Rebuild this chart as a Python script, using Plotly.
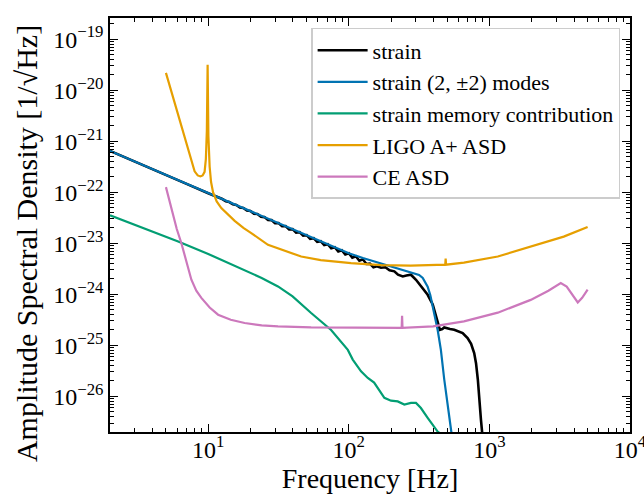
import numpy as np
import plotly.graph_objects as go

# ---------------- data (log10 frequency [Hz], log10 ASD [1/sqrt(Hz)]) ----------------
strain_logf = [0.301, 0.5, 0.699, 0.85, 1.0, 1.05,
               1.100, 1.125, 1.150, 1.175, 1.200, 1.225, 1.250, 1.275, 1.300, 1.325,
               1.350, 1.375, 1.400, 1.425, 1.450, 1.475, 1.500, 1.525, 1.550, 1.575,
               1.600, 1.625, 1.650, 1.675, 1.700, 1.725, 1.750, 1.775, 1.800, 1.825,
               1.850, 1.875, 1.900, 1.925, 1.950, 1.975, 2.000, 2.025, 2.050, 2.075,
               2.100, 2.125, 2.150, 2.175, 2.200,
               2.229, 2.26, 2.29, 2.324, 2.35, 2.384, 2.41, 2.442, 2.478, 2.526, 2.561,
               2.597, 2.627, 2.648, 2.665, 2.679, 2.72, 2.75, 2.81, 2.845, 2.87, 2.892,
               2.905, 2.918, 2.94, 2.955]
strain_logasd = [-21.19, -21.42, -21.66, -21.84, -22.02, -22.075,
                 -22.133, -22.175, -22.192, -22.236, -22.251, -22.298, -22.310, -22.360, -22.369, -22.421,
                 -22.428, -22.482, -22.487, -22.543, -22.546, -22.605, -22.605, -22.667, -22.664, -22.728,
                 -22.723, -22.790, -22.782, -22.851, -22.841, -22.913, -22.900, -22.974, -22.959, -23.036,
                 -23.018, -23.097, -23.077, -23.159, -23.136, -23.220, -23.195, -23.282, -23.254, -23.343,
                 -23.313, -23.405, -23.40, -23.47, -23.45,
                 -23.48, -23.47, -23.53, -23.55, -23.615, -23.65, -23.63, -23.617, -23.715, -23.88, -24.01,
                 -24.20, -24.50, -24.695, -24.68, -24.65, -24.68, -24.695, -24.76, -24.857, -24.97, -25.15,
                 -25.35, -25.67, -26.455, -26.9]

modes22_logf = [0.301, 0.699, 1.0, 1.301, 1.699, 2.0, 2.1, 2.2, 2.3, 2.4, 2.466, 2.5, 2.526,
                2.545, 2.561, 2.58, 2.597, 2.632, 2.655, 2.679, 2.727, 2.745]
modes22_logasd = [-21.19, -21.66, -22.015, -22.37, -22.84, -23.195, -23.29, -23.37, -23.46, -23.53,
                  -23.58, -23.62, -23.68, -23.76, -23.85, -24.02, -24.24, -24.695, -25.09, -25.67,
                  -26.65, -27.0]

memory_logf = [0.301, 0.786, 1.0, 1.259, 1.38, 1.496, 1.6, 1.732, 1.8, 1.874, 1.993, 2.028, 2.087,
               2.135, 2.180, 2.217, 2.253, 2.300, 2.348, 2.395, 2.442, 2.478, 2.513, 2.561, 2.608,
               2.632, 2.66]
memory_logasd = [-22.45, -22.965, -23.21, -23.52, -23.68, -23.846, -24.04, -24.367, -24.52, -24.70,
                 -25.09, -25.28, -25.51, -25.64, -25.73, -25.87, -26.03, -26.085, -26.10, -26.16,
                 -26.13, -26.13, -26.23, -26.42, -26.59, -26.69, -26.75]

ligo_logf = [0.699, 0.745, 0.786, 0.822, 0.857, 0.880, 0.903, 0.925, 0.944, 0.960, 0.974, 0.983,
             0.990, 0.9955, 1.001, 1.010, 1.020, 1.034, 1.060, 1.093, 1.14, 1.188, 1.25, 1.306,
             1.425, 1.55, 1.661, 1.8, 1.898, 2.016, 2.229, 2.44, 2.686, 2.689, 2.692, 2.819,
             3.060, 3.294, 3.529, 3.699]
ligo_logasd = [-19.66, -20.10, -20.52, -20.86, -21.17, -21.40, -21.59, -21.67, -21.69, -21.67, -21.60,
               -21.35, -20.80, -19.50, -20.90, -21.50, -21.80, -22.00, -22.18, -22.31, -22.44, -22.56,
               -22.70, -22.80, -23.03, -23.16, -23.26, -23.33, -23.36, -23.39, -23.43, -23.44, -23.42,
               -23.30, -23.42, -23.38, -23.26, -23.06, -22.87, -22.68]

ce_logf = [0.699, 0.740, 0.776, 0.809, 0.845, 0.880, 0.915, 0.951, 1.010, 1.070, 1.16, 1.259, 1.38,
           1.496, 1.732, 2.0, 2.376, 2.379, 2.382, 2.6, 2.819, 3.060, 3.294, 3.42, 3.508, 3.55,
           3.60, 3.629, 3.66, 3.699]
ce_logasd = [-21.90, -22.35, -22.72, -23.00, -23.38, -23.715, -23.93, -24.07, -24.26, -24.40, -24.50,
             -24.563, -24.61, -24.63, -24.65, -24.66, -24.66, -24.42, -24.66, -24.63, -24.53, -24.36,
             -24.11, -23.93, -23.78, -23.85, -24.05, -24.16, -24.07, -23.91]

series = [
    ("strain", strain_logf, strain_logasd, "#000000", 2.6),
    ("strain (2, ±2) modes", modes22_logf, modes22_logasd, "#0173b2", 2.2),
    ("strain memory contribution", memory_logf, memory_logasd, "#029e73", 2.2),
    ("LIGO A+ ASD", ligo_logf, ligo_logasd, "#e69f00", 2.2),
    ("CE ASD", ce_logf, ce_logasd, "#cc78bc", 2.2),
]

x_major = [1e1, 1e2, 1e3, 1e4]
x_major_text = ["10<sup>1</sup>", "10<sup>2</sup>", "10<sup>3</sup>", "10<sup>4</sup>"]
y_exps = [-26, -25, -24, -23, -22, -21, -20, -19]

FONT = "Liberation Serif"

fig = go.Figure()
for name, lf, la, col, w in series:
    fig.add_trace(go.Scatter(
        x=10 ** np.array(lf), y=10 ** np.array(la), mode="lines", name=name,
        line=dict(color=col, width=w),
    ))

x_minor = [m * 10 ** k for k in range(0, 4) for m in range(2, 10)]
y_minor = [m * 10.0 ** k for k in range(-27, -18) for m in range(2, 10)]

axis_common = dict(
    showgrid=False, zeroline=False, showline=True, linecolor="black", linewidth=1.5,
    ticks="inside", ticklen=8, tickwidth=1, tickcolor="black", mirror="allticks",
    tickfont=dict(family=FONT, size=24, color="black"), automargin=False,
    ticklabeloverflow="allow",
)

fig.update_xaxes(
    type="log", range=[np.log10(2), 4.0005],
    tickvals=x_major, ticktext=x_major_text, ticklabelstandoff=-5,
    minor=dict(ticks="inside", ticklen=4, tickwidth=1, tickcolor="black", tickvals=x_minor, showgrid=False),
    title=dict(text="Frequency [Hz]", font=dict(family=FONT, size=28, color="black"), standoff=4),
    **axis_common,
)
fig.update_yaxes(
    type="log", range=[np.log10(2e-27), np.log10(2.6e-19)],
    tickvals=[10.0 ** e for e in y_exps],
    ticktext=["10<sup>\u2212%d</sup>" % (-e) for e in y_exps],
    minor=dict(ticks="inside", ticklen=4, tickwidth=1, tickcolor="black", tickvals=y_minor, showgrid=False),
    **axis_common,
)

fig.add_annotation(
    text="Amplitude Spectral Density [1/\u221aHz]", textangle=-90,
    xref="paper", yref="paper", x=-0.1615, y=0.454, xanchor="center", yanchor="middle",
    showarrow=False, font=dict(family=FONT, size=30, color="black"),
)

fig.update_layout(
    width=644, height=494,
    margin=dict(l=110, r=14, t=18, b=62),
    plot_bgcolor="white", paper_bgcolor="white",
    font=dict(family=FONT, color="black"),
    legend=dict(
        x=0.981, y=0.976, xanchor="right", yanchor="top",
        bgcolor="rgba(255,255,255,0.85)", bordercolor="#cccccc", borderwidth=1.5,
        font=dict(family=FONT, size=22, color="black"), itemwidth=50,
    ),
)

fig.write_html("out.html", config={"displayModeBar": False},
               post_script="document.body.style.margin='0';document.body.style.padding='0';")
